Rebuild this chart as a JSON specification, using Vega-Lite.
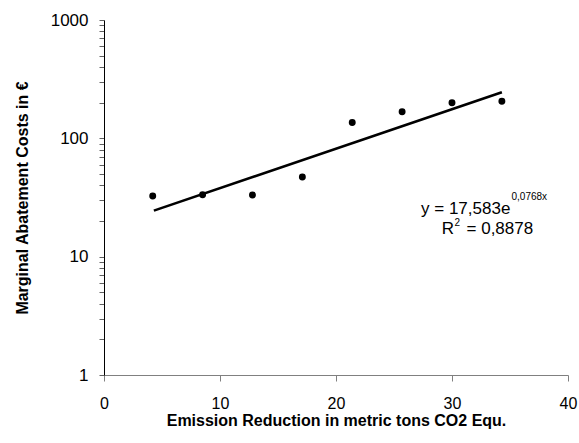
{
  "$schema": "https://vega.github.io/schema/vega-lite/v6.json",
  "width": 464,
  "height": 355,
  "autosize": {"type": "none"},
  "padding": {"left": 104, "top": 20, "right": 11, "bottom": 68},
  "background": "white",
  "config": {
    "view": {"stroke": null},
    "font": "Liberation Sans",
    "axis": {"grid": false, "labelFont": "Liberation Sans", "titleFont": "Liberation Sans", "labelColor": "black", "titleColor": "black", "labelFontSize": 17, "titleFontSize": 16, "titleFontWeight": "bold"}
  },
  "datasets": {
    "pts": [
      {"x": 4.2, "y": 32.6},
      {"x": 8.5, "y": 33.4},
      {"x": 12.8, "y": 33.2},
      {"x": 17.1, "y": 47.1},
      {"x": 21.4, "y": 136},
      {"x": 25.7, "y": 168},
      {"x": 30.0, "y": 200},
      {"x": 34.3, "y": 206}
    ],
    "trend": [
      {"x": 4.3, "y": 24.5},
      {"x": 34.3, "y": 245}
    ],
    "ann": [
      {"x": 27.33, "y": 22.9, "t": "y = 17,583e", "s": "0,0768x", "r": "R", "r2": "2", "r3": "= 0,8878"}
    ]
  },
  "layer": [
    {
      "data": {"name": "trend"},
      "mark": {"type": "line", "color": "black", "strokeWidth": 2.6},
      "encoding": {
        "x": {"field": "x", "type": "quantitative", "scale": {"domain": [0, 40]},
          "axis": {"values": [0, 10, 20, 30, 40], "title": "Emission Reduction in metric tons CO2 Equ.", "domainColor": "#808080", "tickColor": "#808080", "tickSize": 6, "labelFontSize": 16, "labelPadding": 14, "titlePadding": 1, "labelFlush": false}},
        "y": {"field": "y", "type": "quantitative", "scale": {"type": "log", "domain": [1, 1000]},
          "axis": {"values": [1,2,3,4,5,6,7,8,9,10,20,30,40,50,60,70,80,90,100,200,300,400,500,600,700,800,900,1000],
            "labelExpr": "indexof([1,10,100,1000], datum.value) >= 0 ? datum.value : ''",
            "title": "Marginal Abatement Costs in €", "domainColor": "black", "tickColor": "#606060", "tickSize": 5, "labelPadding": 11, "titlePadding": 20, "labelFlush": false}}
      }
    },
    {
      "data": {"name": "pts"},
      "mark": {"type": "point", "shape": "circle", "filled": true, "color": "black", "opacity": 1, "size": 48},
      "encoding": {
        "x": {"field": "x", "type": "quantitative"},
        "y": {"field": "y", "type": "quantitative"}
      }
    },
    {
      "data": {"name": "ann"},
      "mark": {"type": "text", "fontSize": 17, "align": "left", "baseline": "alphabetic", "color": "black"},
      "encoding": {
        "x": {"field": "x", "type": "quantitative"},
        "y": {"field": "y", "type": "quantitative"},
        "text": {"field": "t"}
      }
    },
    {
      "data": {"name": "ann"},
      "mark": {"type": "text", "fontSize": 10, "align": "left", "baseline": "alphabetic", "color": "black", "dx": 90.5, "dy": -14},
      "encoding": {
        "x": {"field": "x", "type": "quantitative"},
        "y": {"field": "y", "type": "quantitative"},
        "text": {"field": "s"}
      }
    },
    {
      "data": {"name": "ann"},
      "mark": {"type": "text", "fontSize": 17, "align": "left", "baseline": "alphabetic", "color": "black", "dx": 20.7, "dy": 20},
      "encoding": {
        "x": {"field": "x", "type": "quantitative"},
        "y": {"field": "y", "type": "quantitative"},
        "text": {"field": "r"}
      }
    },
    {
      "data": {"name": "ann"},
      "mark": {"type": "text", "fontSize": 10, "align": "left", "baseline": "alphabetic", "color": "black", "dx": 33.5, "dy": 12},
      "encoding": {
        "x": {"field": "x", "type": "quantitative"},
        "y": {"field": "y", "type": "quantitative"},
        "text": {"field": "r2"}
      }
    },
    {
      "data": {"name": "ann"},
      "mark": {"type": "text", "fontSize": 17, "align": "left", "baseline": "alphabetic", "color": "black", "dx": 45.5, "dy": 20},
      "encoding": {
        "x": {"field": "x", "type": "quantitative"},
        "y": {"field": "y", "type": "quantitative"},
        "text": {"field": "r3"}
      }
    }
  ]
}
